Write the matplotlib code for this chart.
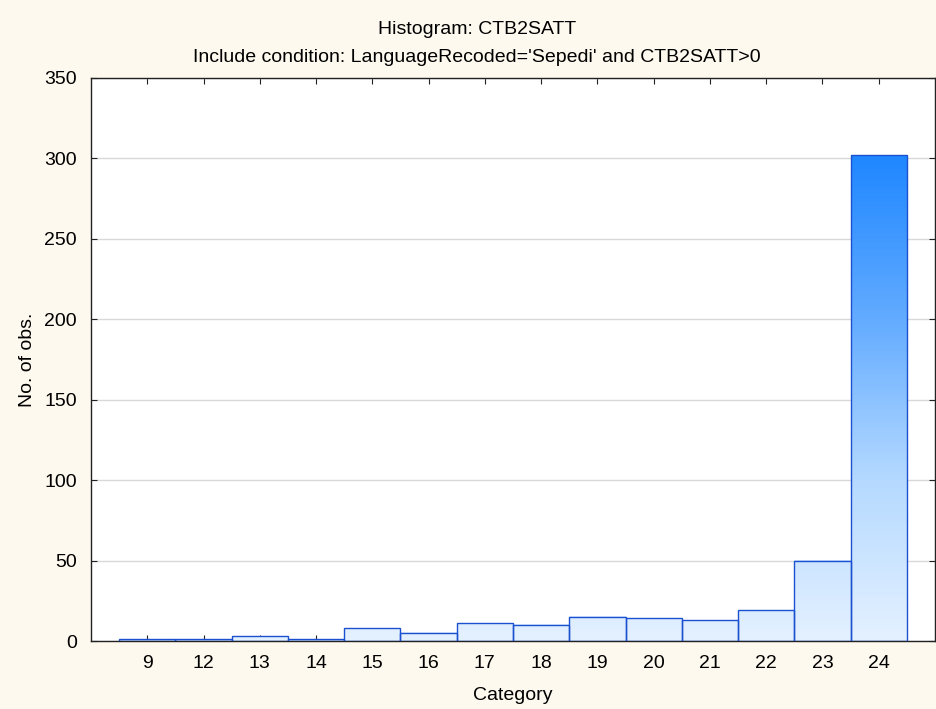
import numpy as np
import matplotlib.pyplot as plt
from matplotlib.colors import LinearSegmentedColormap, Normalize

categories = ["9", "12", "13", "14", "15", "16", "17", "18", "19", "20", "21", "22", "23", "24"]
counts = [1, 1, 3, 1, 8, 5, 11, 10, 15, 14, 13, 19, 50, 302]
y_ticks = [0, 50, 100, 150, 200, 250, 300, 350]

plt.rcParams['font.family'] = ['Liberation Sans', 'DejaVu Sans']
fs = 14

fig = plt.figure(figsize=(9.36, 7.09), dpi=100, facecolor="#fdf9ee")
ax = fig.add_axes([91 / 936, 68 / 709, 844 / 936, 563 / 709])
ax.set_facecolor("white")

cmap = LinearSegmentedColormap.from_list("blu", ["#e4f1ff", "#b4d9ff", "#62abff", "#1f87ff"])
norm = Normalize(0, max(counts))

x = np.arange(len(categories))
bars = ax.bar(x, counts, width=1.0, facecolor="none", edgecolor="#1b50d0", linewidth=1.0, zorder=3)
for b, h in zip(bars, counts):
    x0 = b.get_x()
    grad = np.linspace(0, h, 200).reshape(-1, 1)
    ax.imshow(grad, cmap=cmap, norm=norm, origin="lower", aspect="auto",
              extent=(x0, x0 + b.get_width(), 0, h), zorder=2, interpolation="bilinear")

ax.set_xlim(-1, 14)
ax.set_ylim(0, 350)
ax.set_xticks(x)
ax.set_xticklabels(categories)
ax.set_yticks(y_ticks)
ax.yaxis.grid(True, color="#d9d9d9", linewidth=1.0, zorder=0)
ax.set_axisbelow(True)

ax.tick_params(axis="x", direction="in", top=True, length=4, labelsize=fs, pad=10, color="#222222")
ax.tick_params(axis="y", direction="in", right=True, length=4, labelsize=fs, pad=10, color="#222222")
for s in ax.spines.values():
    s.set_color("#222222")
    s.set_linewidth(1.0)

ax.set_xlabel("Category", fontsize=fs, labelpad=11)
ax.set_ylabel("No. of obs.", fontsize=fs, labelpad=6)
fig.text(477 / 936, 1 - 30 / 709, "Histogram: CTB2SATT", ha="center", va="center", fontsize=fs)
fig.text(477 / 936, 1 - 57 / 709, "Include condition: LanguageRecoded='Sepedi' and CTB2SATT>0",
         ha="center", va="center", fontsize=fs)

fig.savefig("out.png", dpi=100, facecolor=fig.get_facecolor())
